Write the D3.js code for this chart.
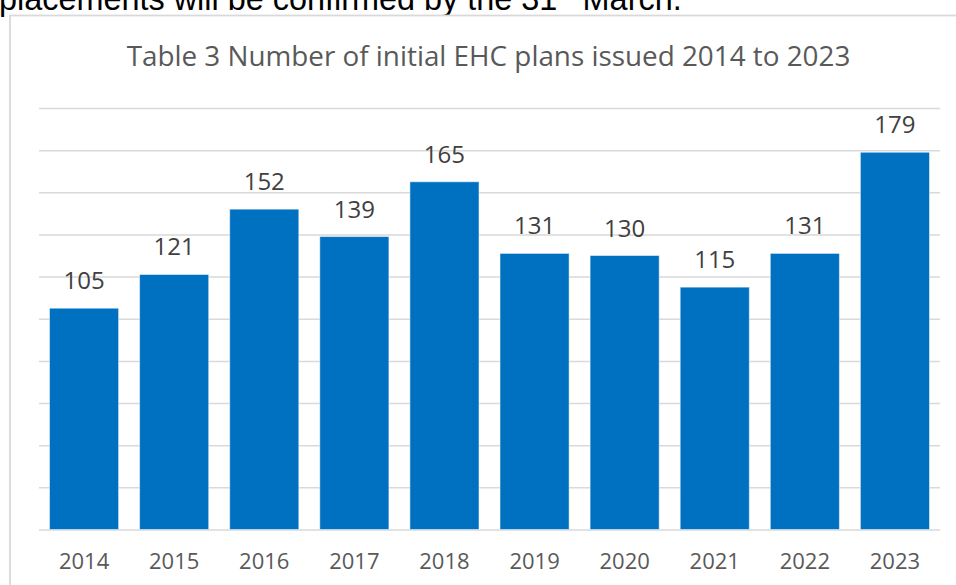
<!DOCTYPE html>
<html>
<head>
  <meta charset="utf-8">
  <script src="https://d3js.org/d3.v7.min.js"></script>
  <title>Table 3 Number of initial EHC plans issued 2014 to 2023</title>
  <style>
    body {
      margin: 0px;
      background: #fff;
    }

    .grid .domain {
      display: none;
    }

    .grid .tick line {
      stroke: #d9d9d9;
      stroke-width: 1.5;
    }

    .grid .tick text {
      display: none;
    }

    .x-axis .domain {
      display: none;
    }

    .x-axis .tick line {
      display: none;
    }

    .x-axis .tick text {
      fill: #595959;
      font-size: 22px;
      font-family: "Open Sans", sans-serif;
    }

    .bar-label {
      fill: #404040;
      font-size: 24px;
      font-family: "Open Sans", sans-serif;
    }
  </style>
</head>

<body>
  <svg width="956" height="585"></svg>
  <script>

    //data
    const years = ['2014', '2015', '2016', '2017', '2018', '2019', '2020', '2021', '2022', '2023'];
    const plans = [105, 121, 152, 139, 165, 131, 130, 115, 131, 179];
    const gridTicks = [0, 20, 40, 60, 80, 100, 120, 140, 160, 180, 200];
    const titleText = 'Table 3 Number of initial EHC plans issued 2014 to 2023';

    const svg = d3.select('svg');
    const width = +svg.attr('width');
    const height = +svg.attr('height');

    const margin = { left: 39, right: 16, top: 108, bottom: 55.5 };
    const innerWidth = width - margin.left - margin.right;
    const innerHeight = height - margin.top - margin.bottom;

    //page text cut off above the chart
    const above = svg.append('text')
      .attr('x', -1)
      .attr('y', 10)
      .style('font-family', '"Liberation Sans", Arial, sans-serif')
      .style('font-size', '28px')
      .style('fill', '#000');
    above.append('tspan').text('placements will be confirmed by the 31');
    above.append('tspan')
      .attr('dy', -10)
      .style('font-size', '18px')
      .text('st');
    above.append('tspan')
      .attr('dy', 10)
      .text(' March.');
    // fit the line to its width in the picture
    const aboveW = above.node().getComputedTextLength();
    above.selectAll('tspan').each(function () {
      const fs = parseFloat(d3.select(this).style('font-size'));
      d3.select(this).style('font-size', (fs * 683 / aboveW) + 'px');
    });

    //chart frame
    svg.append('rect')
      .attr('x', 10)
      .attr('y', 15.5)
      .attr('width', width + 20)
      .attr('height', height + 20)
      .attr('fill', '#fff')
      .attr('stroke', '#d9d9d9')
      .attr('stroke-width', 1.8);

    //title
    const title = svg.append('text')
      .attr('x', margin.left + innerWidth / 2 - 1)
      .attr('y', 66)
      .attr('text-anchor', 'middle')
      .style('font-family', '"Open Sans", sans-serif')
      .style('font-size', '28px')
      .style('fill', '#595959')
      .text(titleText);
    const titleW = title.node().getComputedTextLength();
    title.style('font-size', (28 * 724 / titleW) + 'px');

    const g = svg.append('g')
      .attr('transform', `translate(${margin.left},${margin.top})`);

    //scales
    const xScale = d3.scaleBand()
      .domain(years)
      .range([0, innerWidth])
      .paddingInner(0.233)
      .paddingOuter(0.1165);

    const yScale = d3.scaleLinear()
      .domain([0, 200])
      .range([innerHeight, 0]);

    //gridlines
    g.append('g')
      .attr('class', 'grid')
      .call(d3.axisLeft(yScale)
        .tickValues(gridTicks)
        .tickSize(-innerWidth));

    //bars
    g.selectAll('rect.bar').data(plans)
      .enter().append('rect')
      .attr('class', 'bar')
      .attr('x', (d, i) => xScale(years[i]))
      .attr('y', d => yScale(d))
      .attr('width', xScale.bandwidth())
      .attr('height', d => innerHeight - yScale(d))
      .attr('fill', '#0070c0')
      .attr('stroke', '#ffffff')
      .attr('stroke-opacity', 0.5)
      .attr('stroke-width', 1);

    //value labels
    g.selectAll('text.bar-label').data(plans)
      .enter().append('text')
      .attr('class', 'bar-label')
      .attr('x', (d, i) => xScale(years[i]) + xScale.bandwidth() / 2)
      .attr('y', d => yScale(d) - 19)
      .attr('text-anchor', 'middle')
      .text(d => d);

    //year labels
    g.append('g')
      .attr('class', 'x-axis')
      .attr('transform', `translate(0, ${innerHeight})`)
      .call(d3.axisBottom(xScale).tickSize(0).tickPadding(24));

  </script>
</body>
</html>
